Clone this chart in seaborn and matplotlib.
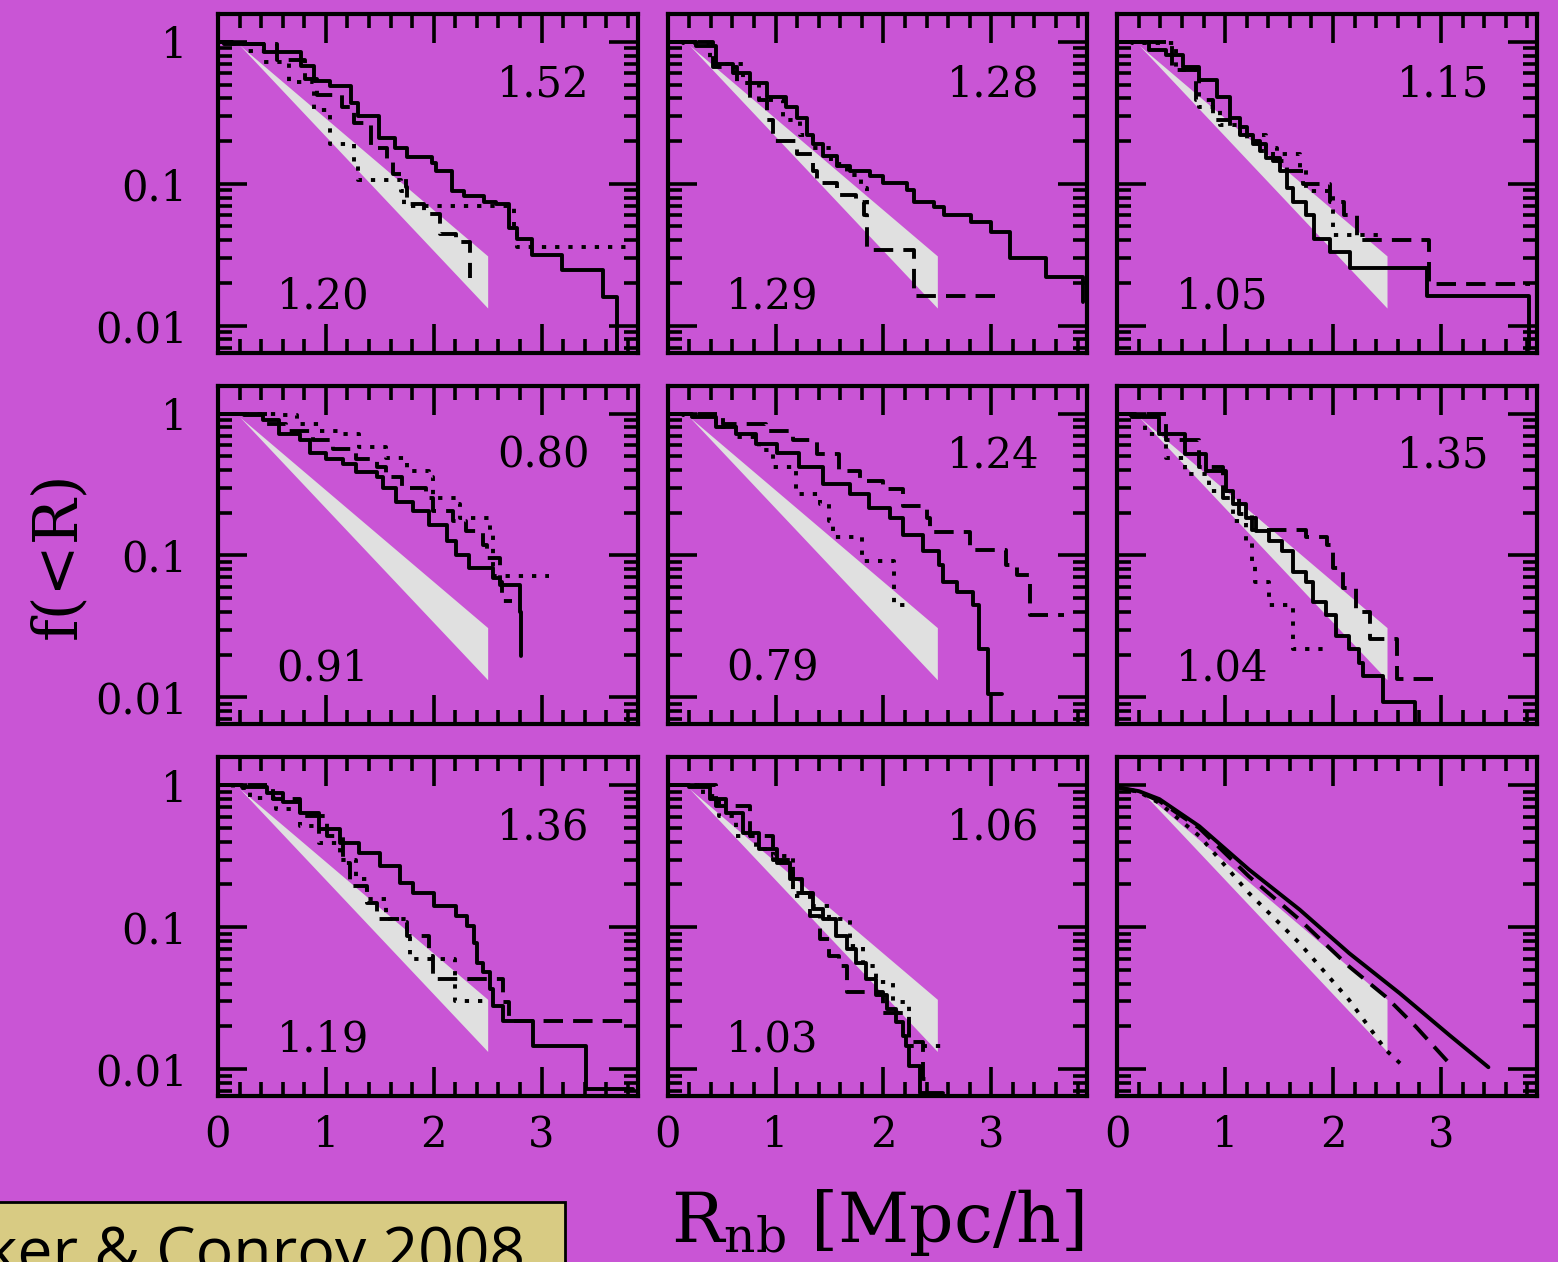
import matplotlib
matplotlib.use("Agg")
import matplotlib.pyplot as plt
import pandas as pd
import seaborn as sns
from matplotlib.patches import Rectangle
from matplotlib.ticker import MultipleLocator, NullFormatter, FixedLocator

BG = "#C955D5"
WEDGE = "#E0E0E0"
BOX = "#D8CB83"

# grey reference wedge (same in every panel)
WEDGE_X = [0.2, 2.5]
WEDGE_HI = [0.95, 0.031]
WEDGE_LO = [0.95, 0.0133]

UPPER_LABELS = ["1.52", "1.28", "1.15", "0.80", "1.24", "1.35", "1.36", "1.06", ""]
LOWER_LABELS = ["1.20", "1.29", "1.05", "0.91", "0.79", "1.04", "1.19", "1.03", ""]

# panel 1
P1_SOLID_X = [0, 0.13, 0.43, 0.77, 0.89, 1.04, 1.23, 1.30, 1.49, 1.64, 1.75, 1.98, 2.02, 2.17, 2.28, 2.47, 2.58, 2.70, 2.77, 2.91, 3.19, 3.57, 3.70]
P1_SOLID_Y = [1.0, 0.97, 0.85, 0.68, 0.53, 0.49, 0.37, 0.30, 0.21, 0.18, 0.155, 0.139, 0.124, 0.0895, 0.0826, 0.074, 0.072, 0.049, 0.041, 0.0316, 0.0247, 0.016, 0.0065]
P1_DASH_X = [0, 0.06, 0.55, 0.81, 0.92, 1.15, 1.26, 1.42, 1.57, 1.62, 1.74, 1.75, 1.91, 2.06, 2.21, 2.34]
P1_DASH_Y = [1.0, 0.97, 0.74, 0.55, 0.42, 0.35, 0.27, 0.18, 0.147, 0.118, 0.095, 0.072, 0.061, 0.044, 0.039, 0.0216]
P1_DOT_X = [0, 0.13, 0.28, 0.43, 0.66, 0.89, 1.04, 1.26, 1.30, 1.70, 1.72, 2.74, 2.77, 3.85]
P1_DOT_Y = [1.0, 0.97, 0.87, 0.72, 0.52, 0.33, 0.19, 0.139, 0.107, 0.0896, 0.070, 0.046, 0.0356, 0.0356]

# panel 2
P2_SOLID_X = [0, 0.26, 0.45, 0.61, 0.76, 0.92, 1.10, 1.20, 1.29, 1.35, 1.44, 1.57, 1.69, 1.88, 2.0, 2.22, 2.28, 2.47, 2.56, 2.81, 3.0, 3.17, 3.51, 3.85]
P2_SOLID_Y = [1.0, 0.93, 0.70, 0.60, 0.51, 0.41, 0.35, 0.29, 0.22, 0.19, 0.157, 0.134, 0.123, 0.113, 0.102, 0.091, 0.075, 0.069, 0.060, 0.054, 0.046, 0.030, 0.022, 0.0146]
P2_DASH_X = [0, 0.42, 0.64, 0.76, 0.92, 0.98, 1.20, 1.35, 1.38, 1.57, 1.75, 1.82, 1.85, 2.28, 3.03]
P2_DASH_Y = [1.0, 0.67, 0.51, 0.39, 0.28, 0.20, 0.162, 0.123, 0.102, 0.084, 0.075, 0.060, 0.034, 0.0163, 0.0163]
P2_DOT_X = [0, 0.14, 0.39, 0.70, 0.85, 1.07, 1.23, 1.35, 1.51, 1.66, 1.79, 1.85]
P2_DOT_Y = [1.0, 0.98, 0.70, 0.51, 0.39, 0.28, 0.22, 0.18, 0.137, 0.116, 0.094, 0.067]

# panel 3
P3_SOLID_X = [0, 0.29, 0.45, 0.61, 0.76, 0.92, 1.04, 1.14, 1.26, 1.38, 1.51, 1.57, 1.63, 1.75, 1.82, 1.97, 2.16, 2.87, 3.82]
P3_SOLID_Y = [1.0, 0.88, 0.81, 0.67, 0.54, 0.41, 0.29, 0.22, 0.19, 0.153, 0.123, 0.094, 0.075, 0.060, 0.041, 0.033, 0.0253, 0.0163, 0.0068]
P3_DASH_X = [0, 0.51, 0.73, 0.89, 1.04, 1.20, 1.32, 1.44, 1.57, 1.72, 1.97, 2.10, 2.22, 2.89, 3.83]
P3_DASH_Y = [1.0, 0.63, 0.39, 0.28, 0.25, 0.20, 0.17, 0.145, 0.123, 0.099, 0.075, 0.060, 0.040, 0.0198, 0.0198]
P3_DOT_X = [0, 0.14, 0.54, 0.76, 0.95, 1.14, 1.38, 1.48, 1.69, 1.75, 1.97, 2.0, 2.47]
P3_DOT_Y = [1.0, 0.98, 0.63, 0.35, 0.26, 0.22, 0.18, 0.162, 0.13, 0.089, 0.084, 0.0437, 0.0437]

# panel 4
P4_SOLID_X = [0, 0.24, 0.42, 0.57, 0.76, 0.85, 1.0, 1.16, 1.28, 1.47, 1.53, 1.65, 1.81, 1.96, 2.12, 2.21, 2.33, 2.55, 2.61, 2.80, 2.81]
P4_SOLID_Y = [1.0, 0.98, 0.90, 0.72, 0.65, 0.53, 0.48, 0.44, 0.385, 0.355, 0.30, 0.24, 0.206, 0.165, 0.126, 0.101, 0.081, 0.069, 0.062, 0.040, 0.0197]
P4_DASH_X = [0, 0.45, 0.63, 0.88, 1.07, 1.28, 1.47, 1.56, 1.71, 1.93, 1.99, 2.18, 2.30, 2.46, 2.49, 2.61, 2.63, 2.73]
P4_DASH_Y = [1.0, 0.85, 0.76, 0.65, 0.56, 0.48, 0.42, 0.355, 0.30, 0.256, 0.206, 0.175, 0.148, 0.119, 0.096, 0.065, 0.048, 0.048]
P4_DOT_X = [0, 0.54, 0.73, 0.94, 1.13, 1.31, 1.56, 1.75, 1.96, 1.99, 2.21, 2.24, 2.52, 2.55, 3.07]
P4_DOT_Y = [1.0, 0.98, 0.85, 0.76, 0.72, 0.58, 0.49, 0.395, 0.355, 0.256, 0.229, 0.184, 0.14, 0.072, 0.072]

# panel 5
P5_SOLID_X = [0, 0.23, 0.45, 0.63, 0.82, 1.01, 1.22, 1.44, 1.69, 1.87, 2.06, 2.18, 2.37, 2.52, 2.55, 2.68, 2.83, 2.89, 2.97, 3.10]
P5_SOLID_Y = [1.0, 0.95, 0.80, 0.72, 0.61, 0.53, 0.42, 0.32, 0.27, 0.217, 0.184, 0.14, 0.107, 0.086, 0.065, 0.055, 0.0446, 0.022, 0.0105, 0.0105]
P5_DASH_X = [0, 0.51, 0.91, 1.16, 1.38, 1.59, 1.78, 2.0, 2.18, 2.40, 2.43, 2.80, 3.14, 3.24, 3.36, 3.67]
P5_DASH_Y = [1.0, 0.85, 0.76, 0.65, 0.52, 0.395, 0.336, 0.293, 0.223, 0.184, 0.146, 0.110, 0.086, 0.073, 0.038, 0.038]
P5_DOT_X = [0, 0.14, 0.45, 0.63, 0.85, 0.98, 1.19, 1.41, 1.50, 1.53, 1.80, 2.10, 2.21]
P5_DOT_Y = [1.0, 0.98, 0.80, 0.68, 0.55, 0.42, 0.27, 0.229, 0.175, 0.136, 0.091, 0.0446, 0.0446]

# panel 6
P6_SOLID_X = [0, 0.14, 0.39, 0.63, 0.82, 1.01, 1.07, 1.19, 1.29, 1.41, 1.53, 1.63, 1.75, 1.81, 1.93, 2.03, 2.15, 2.24, 2.28, 2.46, 2.76]
P6_SOLID_Y = [1.0, 0.95, 0.72, 0.52, 0.395, 0.285, 0.229, 0.184, 0.148, 0.126, 0.107, 0.077, 0.065, 0.047, 0.038, 0.027, 0.022, 0.0176, 0.0142, 0.0092, 0.006]
P6_DASH_X = [0, 0.45, 0.76, 0.98, 1.13, 1.25, 1.75, 1.94, 2.0, 2.09, 2.21, 2.34, 2.59, 2.93]
P6_DASH_Y = [1.0, 0.65, 0.42, 0.256, 0.195, 0.152, 0.135, 0.119, 0.081, 0.059, 0.040, 0.0258, 0.0134, 0.0134]
P6_DOT_X = [0, 0.08, 0.26, 0.45, 0.63, 0.85, 1.07, 1.19, 1.25, 1.28, 1.41, 1.63, 1.93]
P6_DOT_Y = [1.0, 0.98, 0.72, 0.49, 0.374, 0.285, 0.175, 0.126, 0.091, 0.065, 0.0446, 0.022, 0.022]

# panel 7
P7_SOLID_X = [0, 0.22, 0.45, 0.60, 0.76, 0.94, 1.13, 1.31, 1.50, 1.69, 1.81, 2.0, 2.21, 2.31, 2.37, 2.40, 2.46, 2.52, 2.55, 2.64, 2.92, 3.41, 3.85]
P7_SOLID_Y = [1.0, 0.98, 0.89, 0.76, 0.64, 0.49, 0.395, 0.336, 0.27, 0.206, 0.175, 0.141, 0.12, 0.102, 0.078, 0.056, 0.048, 0.0366, 0.028, 0.0219, 0.0146, 0.0072, 0.0072]
P7_DASH_X = [0, 0.51, 0.76, 1.01, 1.16, 1.22, 1.38, 1.47, 1.69, 1.75, 1.96, 1.99, 2.64, 2.70, 3.78]
P7_DASH_Y = [1.0, 0.80, 0.61, 0.44, 0.285, 0.195, 0.149, 0.114, 0.108, 0.087, 0.063, 0.043, 0.0295, 0.0219, 0.0219]
P7_DOT_X = [0, 0.14, 0.30, 0.54, 0.76, 0.94, 1.13, 1.28, 1.38, 1.56, 1.75, 1.78, 2.20, 2.49]
P7_DOT_Y = [1.0, 0.96, 0.82, 0.68, 0.52, 0.395, 0.30, 0.218, 0.157, 0.114, 0.087, 0.060, 0.030, 0.030]

# panel 8
P8_SOLID_X = [0, 0.2, 0.39, 0.54, 0.70, 0.85, 1.01, 1.13, 1.25, 1.35, 1.44, 1.56, 1.66, 1.75, 1.84, 1.93, 2.03, 2.12, 2.18, 2.21, 2.24, 2.34, 2.55]
P8_SOLID_Y = [1.0, 0.98, 0.80, 0.64, 0.46, 0.354, 0.285, 0.218, 0.175, 0.134, 0.114, 0.087, 0.070, 0.056, 0.043, 0.033, 0.0265, 0.0213, 0.0172, 0.0146, 0.0105, 0.0068, 0.0068]
P8_DASH_X = [0, 0.45, 0.76, 0.98, 1.16, 1.32, 1.41, 1.50, 1.59, 1.66, 2.0, 2.24, 2.37, 2.46]
P8_DASH_Y = [1.0, 0.72, 0.44, 0.30, 0.175, 0.12, 0.082, 0.063, 0.053, 0.0347, 0.025, 0.0155, 0.0085, 0.0085]
P8_DOT_X = [0, 0.33, 0.48, 0.63, 0.82, 0.98, 1.16, 1.35, 1.50, 1.69, 1.81, 1.93, 2.09, 2.24, 2.55]
P8_DOT_Y = [1.0, 0.84, 0.61, 0.44, 0.354, 0.318, 0.166, 0.141, 0.114, 0.074, 0.053, 0.041, 0.0295, 0.0146, 0.0146]

# panel 9 (smooth model curves)
P9_SOLID_X = [0, 0.2, 0.39, 0.76, 1.22, 1.69, 2.15, 2.62, 3.08, 3.44]
P9_SOLID_Y = [0.97, 0.91, 0.80, 0.515, 0.255, 0.133, 0.0655, 0.0341, 0.0173, 0.0103]
P9_DASH_X = [0, 0.2, 0.39, 0.76, 1.22, 1.69, 2.15, 2.49, 2.77, 3.11]
P9_DASH_Y = [0.97, 0.90, 0.775, 0.50, 0.228, 0.113, 0.0527, 0.0323, 0.0198, 0.0103]
P9_DOT_X = [0, 0.2, 0.39, 0.76, 1.22, 1.69, 2.15, 2.49, 2.66]
P9_DOT_Y = [0.97, 0.90, 0.75, 0.44, 0.174, 0.077, 0.0306, 0.0136, 0.0103]

PANELS = [
    (P1_SOLID_X, P1_SOLID_Y, P1_DASH_X, P1_DASH_Y, P1_DOT_X, P1_DOT_Y),
    (P2_SOLID_X, P2_SOLID_Y, P2_DASH_X, P2_DASH_Y, P2_DOT_X, P2_DOT_Y),
    (P3_SOLID_X, P3_SOLID_Y, P3_DASH_X, P3_DASH_Y, P3_DOT_X, P3_DOT_Y),
    (P4_SOLID_X, P4_SOLID_Y, P4_DASH_X, P4_DASH_Y, P4_DOT_X, P4_DOT_Y),
    (P5_SOLID_X, P5_SOLID_Y, P5_DASH_X, P5_DASH_Y, P5_DOT_X, P5_DOT_Y),
    (P6_SOLID_X, P6_SOLID_Y, P6_DASH_X, P6_DASH_Y, P6_DOT_X, P6_DOT_Y),
    (P7_SOLID_X, P7_SOLID_Y, P7_DASH_X, P7_DASH_Y, P7_DOT_X, P7_DOT_Y),
    (P8_SOLID_X, P8_SOLID_Y, P8_DASH_X, P8_DASH_Y, P8_DOT_X, P8_DOT_Y),
    (P9_SOLID_X, P9_SOLID_Y, P9_DASH_X, P9_DASH_Y, P9_DOT_X, P9_DOT_Y),
]

LINE_STYLES = ["-", (0, (5, 2.6)), (0, (1.1, 2.3))]

sns.set_style("ticks")
plt.rcParams["font.family"] = ["DejaVu Serif"]
plt.rcParams["mathtext.fontset"] = "dejavuserif"
plt.rcParams["text.color"] = "black"
plt.rcParams["axes.labelcolor"] = "black"

fig, axes = plt.subplots(3, 3, figsize=(15.58, 12.62), dpi=100)
fig.patch.set_facecolor(BG)
fig.subplots_adjust(left=0.1399, right=0.9865, top=0.989, bottom=0.1315,
                    wspace=0.0715, hspace=0.0973)

for i, ax in enumerate(axes.flat):
    ax.set_facecolor(BG)
    ax.set_yscale("log")
    ax.fill_between(WEDGE_X, WEDGE_LO, WEDGE_HI, color=WEDGE, lw=0, zorder=1)

    data = PANELS[i]
    steps = "default" if i == 8 else "steps-post"
    for k in range(3):
        df = pd.DataFrame({"R": data[2 * k], "f": data[2 * k + 1]})
        sns.lineplot(data=df, x="R", y="f", ax=ax, color="black", lw=2.8,
                     linestyle=LINE_STYLES[k], drawstyle=steps,
                     estimator=None, sort=False, zorder=3)
    ax.set(xlabel="", ylabel="")

    ax.set_xlim(0, 3.89)
    ax.set_ylim(0.00645, 1.577)
    ax.xaxis.set_major_locator(FixedLocator([0, 1, 2, 3]))
    ax.xaxis.set_minor_locator(MultipleLocator(0.2))
    ax.yaxis.set_major_locator(FixedLocator([0.01, 0.1, 1]))
    ax.yaxis.set_minor_formatter(NullFormatter())
    ax.tick_params(which="both", direction="in", top=True, right=True,
                   width=2.6, colors="black")
    ax.tick_params(which="major", length=21)
    ax.tick_params(which="minor", length=10)
    ax.tick_params(axis="y", which="major", pad=22, labelsize=30)
    ax.tick_params(axis="x", which="major", pad=13, labelsize=30)
    for sp in ax.spines.values():
        sp.set_linewidth(3)
        sp.set_color("black")

    if i % 3 == 0:
        ax.set_yticklabels(["0.01", "0.1", "1"])
    else:
        ax.set_yticklabels([])
    if i >= 6:
        ax.set_xticklabels(["0", "1", "2", "3"])
    else:
        ax.set_xticklabels([])

    ax.text(0.776, 0.793, UPPER_LABELS[i], transform=ax.transAxes,
            ha="center", va="center", fontsize=30, color="black")
    ax.text(0.25, 0.166, LOWER_LABELS[i], transform=ax.transAxes,
            ha="center", va="center", fontsize=30, color="black")

fig.text(0.037, 0.56, "f(<R)", rotation=90, ha="center", va="center",
         fontsize=44, color="black")
fig.text(0.563, 0.016, r"R$_{\rm nb}$ [Mpc/h]", ha="center", va="baseline",
         fontsize=50, color="black")

# citation box, cropped by the figure edge as in the original slide
fig.patches.append(Rectangle((-0.01, -0.05), 0.3727, 0.0975,
                             transform=fig.transFigure, facecolor=BOX,
                             edgecolor="black", lw=2, zorder=5))
fig.text(0.337, -0.008, "Tinker & Conroy 2008", ha="right", va="baseline",
         fontsize=45, color="black", family=["Open Sans", "DejaVu Sans"],
         zorder=6)

fig.savefig("out.png", dpi=100, facecolor=BG)
